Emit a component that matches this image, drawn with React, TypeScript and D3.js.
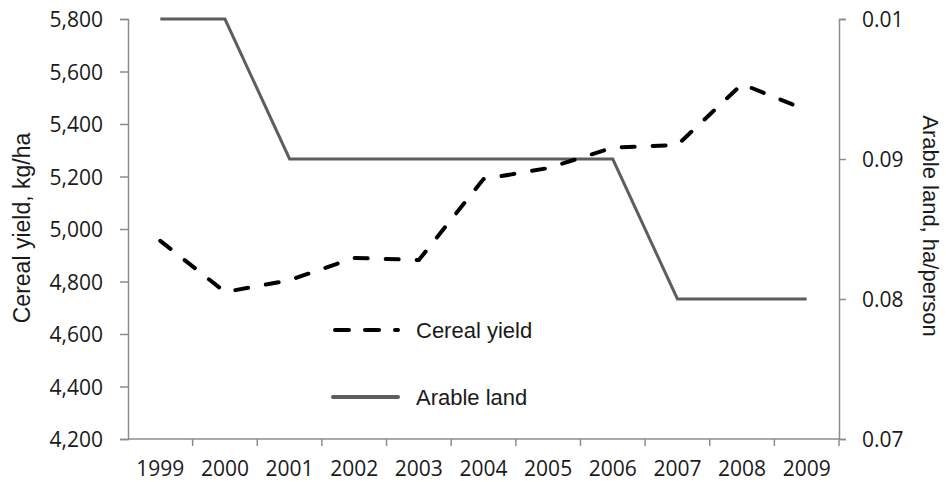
import React, { useEffect, useRef } from 'react';
import * as d3 from 'd3';

// data
const years = ['1999', '2000', '2001', '2002', '2003', '2004', '2005', '2006', '2007', '2008', '2009'];
const cerealYield = [4955, 4760, 4805, 4890, 4882, 5190, 5232, 5310, 5320, 5552, 5453];
const arableLand = [0.10, 0.10, 0.09, 0.09, 0.09, 0.09, 0.09, 0.09, 0.08, 0.08, 0.08];

const leftTicks = [4200, 4400, 4600, 4800, 5000, 5200, 5400, 5600, 5800];
const rightTicks = [0.07, 0.08, 0.09, 0.10];
const rightTickLabels = ['0.07', '0.08', '0.09', '0.01'];

const seriesNames = ['Cereal yield', 'Arable land'];

const App = () => {
  const svgRef = useRef<SVGSVGElement>(null);
  const width = 946;
  const height = 482;
  const margin = { top: 19, right: 107, bottom: 43, left: 128 };

  useEffect(() => {
    const svg = d3.select(svgRef.current);
    svg.selectAll('*').remove();

    const x0 = margin.left;
    const x1 = width - margin.right;
    const y0 = height - margin.bottom;
    const y1 = margin.top;

    const x = d3.scaleBand().domain(years).range([x0, x1]);
    const yLeft = d3.scaleLinear().domain([4200, 5800]).range([y0, y1]);
    const yRight = d3.scaleLinear().domain([0.07, 0.10]).range([y0, y1]);

    const axisColor = '#8c8c8c';
    const tickFont = "'Open Sans', sans-serif";
    const labelFont = "'Liberation Sans', Arial, sans-serif";

    // left axis
    const left = svg.append('g').attr('transform', `translate(${x0},0)`);
    left.call(
      d3.axisLeft(yLeft).tickValues(leftTicks).tickSize(8).tickPadding(17).tickFormat(d3.format(','))
    );

    // right axis
    const right = svg.append('g').attr('transform', `translate(${x1},0)`);
    right.call(
      d3.axisRight(yRight).tickValues(rightTicks).tickSize(7).tickPadding(16)
        .tickFormat((d, i) => rightTickLabels[i])
    );

    // bottom axis: ticks on category boundaries
    const bottom = svg.append('g');
    bottom.append('line')
      .attr('x1', x0).attr('x2', x1)
      .attr('y1', y0).attr('y2', y0);
    years.forEach((yr, i) => {
      const bx = (x(yr) as number) + x.bandwidth();
      bottom.append('line')
        .attr('x1', bx).attr('x2', bx)
        .attr('y1', y0).attr('y2', y0 + 7);
      bottom.append('text')
        .attr('x', (x(yr) as number) + x.bandwidth() / 2)
        .attr('y', y0 + 37)
        .attr('text-anchor', 'middle')
        .text(yr);
    });
    bottom.selectAll('line').attr('stroke', axisColor).attr('stroke-width', 1.5);

    [left, right].forEach(g => {
      g.select('.domain').attr('stroke', axisColor).attr('stroke-width', 1.5);
      g.selectAll('.tick line').attr('stroke', axisColor).attr('stroke-width', 1.5);
    });
    svg.selectAll('text')
      .attr('font-family', tickFont)
      .attr('font-size', 21)
      .attr('fill', '#1a1a1a');
    svg.selectAll('.tick text').attr('dy', '0.36em');

    const px = (i: number) => (x(years[i]) as number) + x.bandwidth() / 2;

    // arable land (solid, right axis)
    const landLine = d3.line<number>()
      .x((d, i) => px(i))
      .y(d => yRight(d));
    svg.append('path')
      .datum(arableLand)
      .attr('fill', 'none')
      .attr('stroke', '#5e5e5e')
      .attr('stroke-width', 3)
      .attr('d', landLine);

    // cereal yield (dashed, left axis)
    const yieldLine = d3.line<number>()
      .x((d, i) => px(i))
      .y(d => yLeft(d));
    svg.append('path')
      .datum(cerealYield)
      .attr('fill', 'none')
      .attr('stroke', '#000')
      .attr('stroke-width', 4)
      .attr('stroke-linecap', 'round')
      .attr('stroke-dasharray', '13,18')
      .attr('d', yieldLine);

    // legend
    const legend = svg.append('g').attr('transform', 'translate(333,330)');
    seriesNames.forEach((name, i) => {
      const row = legend.append('g').attr('transform', `translate(0,${i * 67})`);
      row.append('line')
        .attr('x1', i === 0 ? 2 : 0).attr('x2', 65)
        .attr('stroke', i === 0 ? '#000' : '#5e5e5e')
        .attr('stroke-width', 4)
        .attr('stroke-linecap', 'round')
        .attr('stroke-dasharray', i === 0 ? '14,16' : null);
      row.append('text')
        .attr('x', 83)
        .attr('dy', '0.36em')
        .attr('font-family', labelFont)
        .attr('font-size', 22)
        .attr('fill', '#1a1a1a')
        .text(name);
    });

    // axis titles
    svg.append('text')
      .attr('transform', `translate(30,${(y0 + y1) / 2 - 1}) rotate(-90)`)
      .attr('text-anchor', 'middle')
      .attr('font-family', labelFont)
      .attr('font-size', 23)
      .attr('fill', '#1a1a1a')
      .text('Cereal yield, kg/ha');

    svg.append('text')
      .attr('transform', `translate(923,${(y0 + y1) / 2 - 3}) rotate(90)`)
      .attr('text-anchor', 'middle')
      .attr('font-family', labelFont)
      .attr('font-size', 22)
      .attr('fill', '#1a1a1a')
      .text('Arable land, ha/person');
  }, []);

  return (
    <svg
      ref={svgRef}
      width={width}
      height={height}
      style={{ position: 'absolute', left: 0, top: 0, background: '#fff' }}
    />
  );
};

export default App;
